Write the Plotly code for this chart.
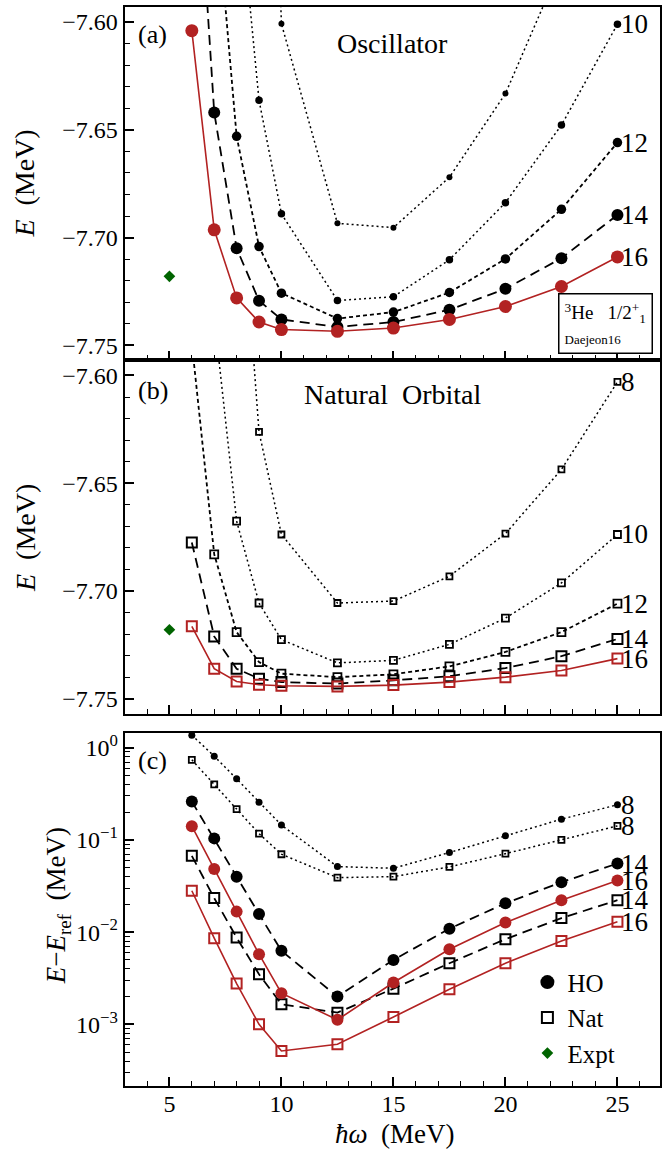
import math
import plotly.graph_objects as go

hw = [6, 7, 8, 9, 10, 12.5, 15, 17.5, 20, 22.5, 25]

# Panel (a): oscillator basis energies (MeV); leading values lie above the frame
ho_E_8 = [None, None, None, -7.30, -7.6008, -7.6934, -7.6954, -7.672, -7.6332, -7.573, -7.50]
ho_E_10 = [None, None, -7.528, -7.6363, -7.689, -7.7292, -7.7275, -7.7103, -7.6838, -7.6478, -7.601]
ho_E_12 = [None, -7.533, -7.653, -7.7042, -7.7258, -7.7376, -7.7346, -7.7255, -7.7099, -7.6869, -7.6559]
ho_E_14 = [-7.48, -7.642, -7.705, -7.7293, -7.738, -7.7415, -7.7392, -7.7335, -7.7238, -7.7096, -7.6895]
ho_E_16 = [-7.604, -7.6964, -7.728, -7.7392, -7.7427, -7.7435, -7.742, -7.738, -7.732, -7.7227, -7.709]

# Panel (b): natural orbital basis energies (MeV)
nat_E_8 = [None, None, -7.486, -7.6262, -7.6738, -7.7056, -7.7047, -7.6932, -7.6734, -7.6436, -7.603]
nat_E_10 = [None, -7.573, -7.6676, -7.7056, -7.7226, -7.7334, -7.7322, -7.7248, -7.7126, -7.6963, -7.6738]
nat_E_12 = [-7.585, -7.683, -7.7191, -7.733, -7.7384, -7.740, -7.7387, -7.735, -7.7283, -7.7191, -7.7059]
nat_E_14 = [-7.6775, -7.7211, -7.7361, -7.7407, -7.7423, -7.743, -7.7415, -7.7396, -7.7358, -7.7303, -7.7223]
nat_E_16 = [-7.7164, -7.7361, -7.742, -7.7435, -7.744, -7.7443, -7.7437, -7.7423, -7.740, -7.7369, -7.7314]

# Panel (c): E - E_ref (MeV)
ho_d_8 = [1.37, 0.81, 0.46, 0.257, 0.145, 0.0514, 0.0493, 0.073, 0.111, 0.168, 0.241]
nat_d_8 = [0.74, 0.40, 0.216, 0.117, 0.070, 0.039, 0.040, 0.051, 0.071, 0.10, 0.142]
ho_d_14 = [0.261, 0.104, 0.040, 0.0157, 0.00627, 0.0020, 0.0050, 0.0109, 0.0206, 0.0348, 0.0555]
ho_d_16 = [0.141, 0.0485, 0.0167, 0.00577, 0.00218, 0.00112, 0.00284, 0.00653, 0.0127, 0.0222, 0.0363]
nat_d_14 = [0.0673, 0.0234, 0.00873, 0.00349, 0.00165, 0.00134, 0.00244, 0.0046, 0.0084, 0.0142, 0.0222]
nat_d_16 = [0.0281, 0.0086, 0.00277, 0.0010, 0.000514, 0.000607, 0.0012, 0.0024, 0.0046, 0.008, 0.013]

expt_hw = [5]
expt_E = [-7.718]

y_ticks_log = [1, 0.1, 0.01, 0.001]
y_ticktext_log = ["10<sup>0</sup>", "10<sup>\u22121</sup>", "10<sup>\u22122</sup>", "10<sup>\u22123</sup>"]

RED = "#b22222"
GREEN = "#006400"
FONT = "Liberation Serif"

DOT = "2px,3px"
SDASH = "4px,3px"
LDASH = "10px,6px"

fig = go.Figure()


def add(x, y, xa, ya, color, dash, symbol, size, lw=1.6, mlw=0):
    fig.add_trace(go.Scatter(
        x=x, y=y, xaxis=xa, yaxis=ya, mode="lines+markers",
        line=dict(color=color, dash=dash, width=lw),
        marker=dict(color=color, symbol=symbol, size=size,
                    line=dict(color=color, width=mlw)),
        showlegend=False, cliponaxis=True, hoverinfo="skip"))


# (a)
add(hw, ho_E_8, "x", "y", "black", DOT, "circle", 6, 1.5)
add(hw, ho_E_10, "x", "y", "black", DOT, "circle", 7.5, 1.5)
add(hw, ho_E_12, "x", "y", "black", SDASH, "circle", 9.5, 1.8)
add(hw, ho_E_14, "x", "y", "black", LDASH, "circle", 12, 1.8)
add(hw, ho_E_16, "x", "y", RED, "solid", "circle", 13, 1.6)
fig.add_trace(go.Scatter(x=expt_hw, y=expt_E, xaxis="x", yaxis="y", mode="markers",
                         marker=dict(color=GREEN, symbol="diamond", size=9),
                         showlegend=False, hoverinfo="skip"))

# (b)
add(hw, nat_E_8, "x2", "y2", "black", DOT, "square-open", 6, 1.5, 1.8)
add(hw, nat_E_10, "x2", "y2", "black", DOT, "square-open", 7, 1.5, 1.8)
add(hw, nat_E_12, "x2", "y2", "black", SDASH, "square-open", 8, 1.8, 1.8)
add(hw, nat_E_14, "x2", "y2", "black", LDASH, "square-open", 10, 1.8, 2)
add(hw, nat_E_16, "x2", "y2", RED, "solid", "square-open", 10, 1.6, 2)
fig.add_trace(go.Scatter(x=expt_hw, y=expt_E, xaxis="x2", yaxis="y2", mode="markers",
                         marker=dict(color=GREEN, symbol="diamond", size=9),
                         showlegend=False, hoverinfo="skip"))

# (c)
add(hw, ho_d_8, "x3", "y3", "black", DOT, "circle", 7, 1.5)
add(hw, nat_d_8, "x3", "y3", "black", DOT, "square-open", 6, 1.5, 1.8)
add(hw, ho_d_14, "x3", "y3", "black", LDASH, "circle", 12, 1.8)
add(hw, nat_d_14, "x3", "y3", "black", LDASH, "square-open", 10, 1.8, 2)
add(hw, ho_d_16, "x3", "y3", RED, "solid", "circle", 12, 1.6)
add(hw, nat_d_16, "x3", "y3", RED, "solid", "square-open", 10, 1.6, 2)

# legend entries
fig.add_trace(go.Scatter(x=[None], y=[None], xaxis="x3", yaxis="y3", mode="markers", name="HO",
                         marker=dict(color="black", symbol="circle", size=14)))
fig.add_trace(go.Scatter(x=[None], y=[None], xaxis="x3", yaxis="y3", mode="markers", name="Nat",
                         marker=dict(color="black", symbol="square-open", size=11, line=dict(width=2))))
fig.add_trace(go.Scatter(x=[None], y=[None], xaxis="x3", yaxis="y3", mode="markers", name="Expt",
                         marker=dict(color=GREEN, symbol="diamond", size=9)))

W, H = 662, 1151


def ydom(top, bottom):
    return [1 - bottom / H, 1 - top / H]


ytickfont = dict(family=FONT, size=24, color="black")
xtickfont = dict(family=FONT, size=24, color="black")
xcommon = dict(range=[3, 26.9], dtick=5, tick0=0, ticks="inside", ticklen=9, tickwidth=1.5,
               tickcolor="black", mirror=True, showline=True, linewidth=2, linecolor="black",
               showgrid=False, zeroline=False, domain=[125 / W, 1.0], tickfont=xtickfont,
               minor=dict(dtick=1, tick0=0, ticks="inside", ticklen=5, tickwidth=1.2,
                          tickcolor="black", showgrid=False))
ycommon = dict(range=[-7.757, -7.593], dtick=0.05, tick0=-7.60, tickformat=".2f",
               ticks="inside", ticklen=9, tickwidth=1.5, tickcolor="black", mirror=True,
               showline=True, linewidth=2, linecolor="black", showgrid=False, zeroline=False,
               tickfont=ytickfont,
               minor=dict(dtick=0.01, tick0=-7.60, ticks="inside", ticklen=5, tickwidth=1.2,
                          tickcolor="black", showgrid=False))

minor_log = [m * 10 ** k for k in range(-4, 1) for m in range(2, 10)]

fig.update_layout(
    width=W, height=H, margin=dict(l=0, r=0, t=0, b=0),
    paper_bgcolor="white", plot_bgcolor="white",
    font=dict(family=FONT, color="black"),
    xaxis=dict(xcommon, anchor="y", showticklabels=False),
    xaxis2=dict(xcommon, anchor="y2", showticklabels=False),
    xaxis3=dict(xcommon, anchor="y3", showticklabels=True, ticklabelstandoff=-5),
    yaxis=dict(ycommon, anchor="x", domain=ydom(5, 359)),
    yaxis2=dict(ycommon, anchor="x2", domain=ydom(359, 713)),
    yaxis3=dict(type="log", range=[-3.67, 0.163], anchor="x3", domain=ydom(732, 1086),
                tickvals=y_ticks_log, ticktext=y_ticktext_log,
                ticks="inside", ticklen=9, tickwidth=1.5, tickcolor="black", mirror=True,
                showline=True, linewidth=2, linecolor="black", showgrid=False, zeroline=False,
                tickfont=ytickfont,
                minor=dict(tickvals=minor_log, ticks="inside", ticklen=5, tickwidth=1.2,
                           tickcolor="black", showgrid=False)),
    legend=dict(x=529 / W, y=1 - 959 / H, xanchor="left", yanchor="top",
                font=dict(family=FONT, size=25, color="black"), bgcolor="rgba(0,0,0,0)",
                tracegroupgap=0, itemwidth=30),
    showlegend=True,
)

ann = []


def lab(text, x, y, size=24, **kw):
    ann.append(dict(text=text, x=x, y=y, xref="paper", yref="paper", showarrow=False,
                    font=dict(family=FONT, size=size, color="black"), **kw))


def px(xp):
    return xp / W


def py(yp):
    return 1 - yp / H


lab("(a)", px(136), py(33), 26, xanchor="left", yanchor="middle")
lab("Oscillator", px(394), py(42), 28, xanchor="center", yanchor="middle")
lab("(b)", px(136), py(389), 26, xanchor="left", yanchor="middle")
lab("Natural  Orbital", px(394), py(393), 28, xanchor="center", yanchor="middle")
lab("(c)", px(136), py(760), 26, xanchor="left", yanchor="middle")

lab("<i>E</i>  (MeV)", px(25), py(182), 28, textangle=-90, xanchor="center", yanchor="middle")
lab("<i>E</i>  (MeV)", px(25), py(537), 28, textangle=-90, xanchor="center", yanchor="middle")
lab("<i>E</i>\u2212<i>E</i><sub>ref</sub>  (MeV)", px(59), py(905), 27, textangle=-90,
    xanchor="center", yanchor="middle")
lab("<i>\u0127\u03c9</i>  (MeV)", px(396), py(1134), 27, xanchor="center", yanchor="middle")

ann.append(dict(text="<sup>3</sup>He   1/2<sup>+</sup><sub>1</sub><br><span style='font-size:13px'>Daejeon16</span>",
                x=px(607), y=py(322), xref="paper", yref="paper", showarrow=False,
                xanchor="center", yanchor="middle", align="left",
                font=dict(family=FONT, size=19, color="black"),
                bordercolor="black", borderwidth=1.5, borderpad=5, bgcolor="white"))


def end_label(text, series, xa, ya, log=False, size=27, yshift=0):
    v = series[-1]
    ann.append(dict(text=text, x=hw[-1], y=math.log10(v) if log else v, xref=xa, yref=ya,
                    showarrow=False, xanchor="left", yanchor="middle", xshift=2, yshift=yshift,
                    font=dict(family=FONT, size=size, color="black")))


end_label("10", ho_E_10, "x", "y")
end_label("12", ho_E_12, "x", "y")
end_label("14", ho_E_14, "x", "y")
end_label("16", ho_E_16, "x", "y")
end_label("8", nat_E_8, "x2", "y2")
end_label("10", nat_E_10, "x2", "y2")
end_label("12", nat_E_12, "x2", "y2")
end_label("14", nat_E_14, "x2", "y2")
end_label("16", nat_E_16, "x2", "y2")
end_label("8", ho_d_8, "x3", "y3", log=True)
end_label("8", nat_d_8, "x3", "y3", log=True)
end_label("14", ho_d_14, "x3", "y3", log=True)
end_label("16", ho_d_16, "x3", "y3", log=True)
end_label("14", nat_d_14, "x3", "y3", log=True)
end_label("16", nat_d_16, "x3", "y3", log=True)

fig.update_layout(annotations=ann)
fig.write_html("out.html", config={"displayModeBar": False},
               post_script="document.body.style.margin='0';document.body.style.padding='0';")
